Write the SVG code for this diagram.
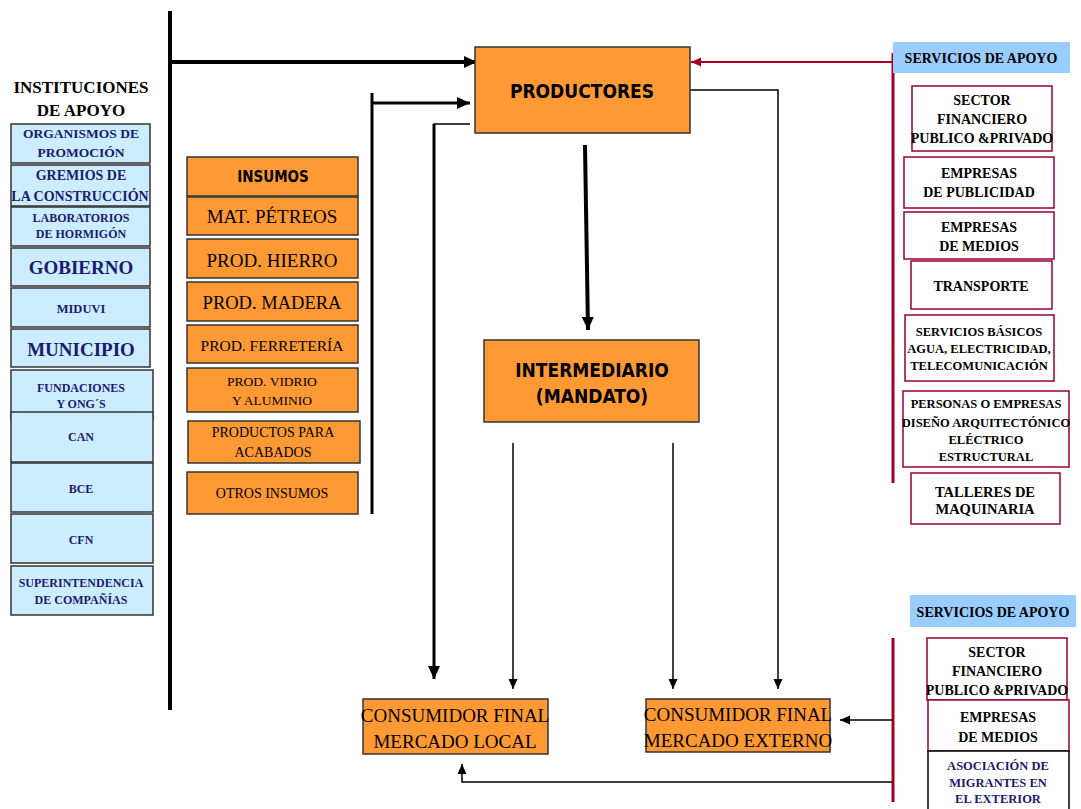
<svg xmlns="http://www.w3.org/2000/svg" width="1081" height="809" viewBox="0 0 1081 809">
<defs>
<style>
.bg{fill:#ffffff}
.inst{fill:#CCECFF;stroke:#333333;stroke-width:1.5}
.ins{fill:#FF9933;stroke:#333333;stroke-width:1.5}
.svc{fill:#ffffff;stroke:#990033;stroke-width:1.5}
.hdr{fill:#99CCFF}
.tnavy{font-family:"Liberation Serif","Times New Roman",serif;font-weight:bold;fill:#1A1A6E;text-anchor:middle}
.tblk{font-family:"Liberation Serif","Times New Roman",serif;font-weight:bold;fill:#000000;text-anchor:middle}
.tser{font-family:"Liberation Serif","Times New Roman",serif;fill:#000000;text-anchor:middle}
.tsans{font-family:"DejaVu Sans Condensed","DejaVu Sans",sans-serif;font-weight:bold;fill:#000000;text-anchor:middle;font-stretch:condensed}
.thick{stroke:#000;stroke-width:4;fill:none}
.mid{stroke:#000;stroke-width:3;fill:none}
.thin{stroke:#000;stroke-width:1.5;fill:none}
.red{stroke:#A50021;stroke-width:3;fill:none}
.redthin{stroke:#A50021;stroke-width:2;fill:none}
</style>
<marker id="ab" markerUnits="userSpaceOnUse" markerWidth="14" markerHeight="14" refX="13" refY="7" orient="auto"><path d="M0,1 L13,7 L0,13 z" fill="#000"/></marker>
<marker id="as" markerUnits="userSpaceOnUse" markerWidth="11" markerHeight="10" refX="10" refY="5" orient="auto"><path d="M0,0.5 L10,5 L0,9.5 z" fill="#000"/></marker>
<marker id="ar" markerUnits="userSpaceOnUse" markerWidth="11" markerHeight="10" refX="10" refY="5" orient="auto"><path d="M0,0.5 L10,5 L0,9.5 z" fill="#A50021"/></marker>
</defs>
<rect class="bg" x="0" y="0" width="1081" height="809"/>

<g id="connectors">
<line class="thick" x1="170" y1="11" x2="170" y2="710"/>
<line class="thick" x1="170" y1="62" x2="477" y2="62" marker-end="url(#ab)"/>
<line class="mid" x1="372" y1="93" x2="372" y2="514"/>
<line class="mid" x1="372" y1="103" x2="470" y2="103" marker-end="url(#ab)"/>
<polyline class="thin" points="470,124 434,124 434,130"/>
<line class="mid" x1="434" y1="124" x2="434" y2="679" marker-end="url(#ab)"/>
<line class="thick" x1="585" y1="145" x2="588" y2="330" marker-end="url(#ab)"/>
<line class="redthin" x1="893" y1="62" x2="691" y2="62" marker-end="url(#ar)"/>
<polyline class="thin" points="690,90 778,90 778,689" marker-end="url(#as)"/>
<line class="thin" x1="513" y1="443" x2="513" y2="689" marker-end="url(#as)"/>
<line class="thin" x1="673" y1="443" x2="673" y2="689" marker-end="url(#as)"/>
<line class="red" x1="893" y1="53" x2="893" y2="483"/>
<line class="red" x1="893" y1="638" x2="893" y2="802"/>
<line class="thin" x1="893" y1="720" x2="840" y2="720" marker-end="url(#as)"/>
<polyline class="thin" points="893,782 462,782 462,764" marker-end="url(#as)"/>
</g>

<g id="inst-title">
<text class="tblk" x="81" y="93" font-size="17">INSTITUCIONES</text>
<text class="tblk" x="81" y="116" font-size="17">DE APOYO</text>
</g>
<g id="organismos"><rect class="inst" x="11" y="124" width="139" height="39"/>
<text class="tnavy" x="81" y="138" font-size="13.5">ORGANISMOS DE</text><text class="tnavy" x="81" y="157" font-size="13.5">PROMOCIÓN</text></g>
<g id="gremios"><rect class="inst" x="11" y="165" width="139" height="41"/>
<text class="tnavy" x="81" y="180" font-size="14">GREMIOS DE</text><text class="tnavy" x="80" y="201" font-size="14">LA CONSTRUCCIÓN</text></g>
<g id="laboratorios"><rect class="inst" x="11" y="207" width="139" height="39"/>
<text class="tnavy" x="81" y="222" font-size="12">LABORATORIOS</text><text class="tnavy" x="81" y="238" font-size="12">DE HORMIGÓN</text></g>
<g id="gobierno"><rect class="inst" x="11" y="248" width="139" height="38"/>
<text class="tnavy" x="81" y="274" font-size="19">GOBIERNO</text></g>
<g id="miduvi"><rect class="inst" x="11" y="288" width="139" height="39"/>
<text class="tnavy" x="81" y="313" font-size="12.5">MIDUVI</text></g>
<g id="municipio"><rect class="inst" x="11" y="329" width="139" height="38"/>
<text class="tnavy" x="81" y="356" font-size="19">MUNICIPIO</text></g>
<g id="fundaciones"><rect class="inst" x="11" y="370" width="142" height="50"/>
<text class="tnavy" x="81" y="392" font-size="12">FUNDACIONES</text><text class="tnavy" x="81" y="408" font-size="12">Y ONG´S</text></g>
<g id="can"><rect class="inst" x="11" y="412" width="142" height="50"/>
<text class="tnavy" x="81" y="441" font-size="12">CAN</text></g>
<g id="bce"><rect class="inst" x="11" y="463" width="142" height="49"/>
<text class="tnavy" x="81" y="493" font-size="12">BCE</text></g>
<g id="cfn"><rect class="inst" x="11" y="514" width="142" height="49"/>
<text class="tnavy" x="81" y="544" font-size="12">CFN</text></g>
<g id="superintendencia"><rect class="inst" x="11" y="566" width="142" height="49"/>
<text class="tnavy" x="81" y="587" font-size="12">SUPERINTENDENCIA</text><text class="tnavy" x="81" y="604" font-size="12">DE COMPAÑÍAS</text></g>

<g id="insumos"><rect class="ins" x="187" y="157" width="171" height="39"/>
<text class="tsans" x="273" y="182" font-size="15">INSUMOS</text></g>
<g id="petreos"><rect class="ins" x="187" y="197" width="171" height="38"/>
<text class="tser" x="272" y="223" font-size="19">MAT. PÉTREOS</text></g>
<g id="hierro"><rect class="ins" x="187" y="239" width="171" height="39"/>
<text class="tser" x="272" y="267" font-size="19">PROD. HIERRO</text></g>
<g id="madera"><rect class="ins" x="187" y="282" width="171" height="39"/>
<text class="tser" x="272" y="309" font-size="18.5">PROD. MADERA</text></g>
<g id="ferreteria"><rect class="ins" x="187" y="325" width="171" height="38"/>
<text class="tser" x="272" y="351" font-size="15.5">PROD. FERRETERÍA</text></g>
<g id="vidrio"><rect class="ins" x="187" y="368" width="171" height="44"/>
<text class="tser" x="272" y="386" font-size="13.5">PROD. VIDRIO</text><text class="tser" x="272" y="405" font-size="13.5">Y ALUMINIO</text></g>
<g id="acabados"><rect class="ins" x="188" y="421" width="172" height="42"/>
<text class="tser" x="273" y="437" font-size="14">PRODUCTOS PARA</text><text class="tser" x="273" y="457" font-size="14">ACABADOS</text></g>
<g id="otros"><rect class="ins" x="187" y="472" width="171" height="42"/>
<text class="tser" x="272" y="498" font-size="14">OTROS INSUMOS</text></g>

<g id="productores"><rect class="ins" x="475" y="47" width="215" height="86"/>
<text class="tsans" x="582" y="98" font-size="19">PRODUCTORES</text></g>
<g id="intermediario"><rect class="ins" x="484" y="340" width="215" height="82"/>
<text class="tsans" x="592" y="377" font-size="19">INTERMEDIARIO</text><text class="tsans" x="592" y="403" font-size="19">(MANDATO)</text></g>

<g id="consumidor-local"><rect class="ins" x="363" y="699" width="185" height="55"/>
<text class="tser" x="455" y="722" font-size="19">CONSUMIDOR FINAL</text><text class="tser" x="455" y="748" font-size="19">MERCADO LOCAL</text></g>
<g id="consumidor-externo"><rect class="ins" x="646" y="699" width="184" height="53"/>
<text class="tser" x="738" y="721" font-size="19">CONSUMIDOR FINAL</text><text class="tser" x="738" y="747" font-size="19">MERCADO EXTERNO</text></g>

<g id="servicios-header-1"><rect class="hdr" x="893" y="42" width="177" height="31"/>
<text class="tblk" x="981" y="63" font-size="14">SERVICIOS DE APOYO</text></g>
<g id="sector-financiero-1"><rect class="svc" x="912" y="86" width="140" height="65"/>
<text class="tblk" x="982" y="105" font-size="14">SECTOR</text><text class="tblk" x="982" y="124" font-size="14">FINANCIERO</text><text class="tblk" x="982" y="143" font-size="14">PUBLICO &amp;PRIVADO</text></g>
<g id="publicidad"><rect class="svc" x="904" y="157" width="150" height="51"/>
<text class="tblk" x="979" y="178" font-size="14">EMPRESAS</text><text class="tblk" x="979" y="197" font-size="14">DE PUBLICIDAD</text></g>
<g id="medios-1"><rect class="svc" x="904" y="212" width="150" height="47"/>
<text class="tblk" x="979" y="232" font-size="14">EMPRESAS</text><text class="tblk" x="979" y="251" font-size="14">DE MEDIOS</text></g>
<g id="transporte"><rect class="svc" x="911" y="261" width="141" height="48"/>
<text class="tblk" x="981" y="291" font-size="14">TRANSPORTE</text></g>
<g id="servicios-basicos"><rect class="svc" x="905" y="315" width="149" height="66"/>
<text class="tblk" x="979" y="336" font-size="12.5">SERVICIOS BÁSICOS</text><text class="tblk" x="979" y="353" font-size="12.5">AGUA, ELECTRICIDAD,</text><text class="tblk" x="979" y="370" font-size="12.5">TELECOMUNICACIÓN</text></g>
<g id="diseno"><rect class="svc" x="903" y="391" width="166" height="76"/>
<text class="tblk" x="986" y="408" font-size="12.5">PERSONAS O EMPRESAS</text><text class="tblk" x="986" y="427" font-size="12.5">DISEÑO ARQUITECTÓNICO</text><text class="tblk" x="986" y="444" font-size="12.5">ELÉCTRICO</text><text class="tblk" x="986" y="461" font-size="12.5">ESTRUCTURAL</text></g>
<g id="talleres"><rect class="svc" x="911" y="473" width="149" height="51"/>
<text class="tblk" x="985" y="497" font-size="14.5">TALLERES DE</text><text class="tblk" x="985" y="514" font-size="14.5">MAQUINARIA</text></g>

<g id="servicios-header-2"><rect class="hdr" x="910" y="595" width="166" height="32"/>
<text class="tblk" x="993" y="617" font-size="14">SERVICIOS DE APOYO</text></g>
<g id="sector-financiero-2"><rect class="svc" x="927" y="638" width="140" height="62"/>
<text class="tblk" x="997" y="657" font-size="14">SECTOR</text><text class="tblk" x="997" y="676" font-size="14">FINANCIERO</text><text class="tblk" x="997" y="695" font-size="14">PUBLICO &amp;PRIVADO</text></g>
<g id="medios-2"><rect class="svc" x="928" y="700" width="141" height="51"/>
<text class="tblk" x="998" y="722" font-size="14">EMPRESAS</text><text class="tblk" x="998" y="742" font-size="14">DE MEDIOS</text></g>
<g id="migrantes"><rect x="928" y="751" width="141" height="62" fill="#ffffff" stroke="#000" stroke-width="1.5"/>
<text class="tnavy" x="998" y="770" font-size="12.5">ASOCIACIÓN DE</text><text class="tnavy" x="998" y="787" font-size="12.5">MIGRANTES EN</text><text class="tnavy" x="998" y="803" font-size="12.5">EL EXTERIOR</text></g>
</svg>
